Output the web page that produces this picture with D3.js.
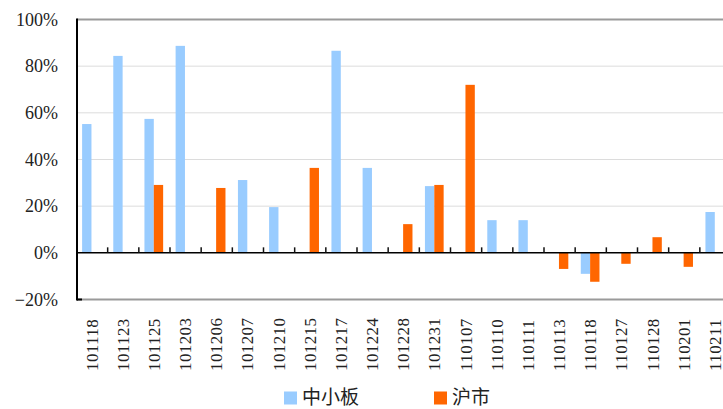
<!DOCTYPE html>
<html>
<head>
<meta charset="utf-8">
<script src="https://cdn.jsdelivr.net/npm/d3@7"></script>
<style>
  html, body { margin: 0; padding: 0; background: #fff; }
  svg { display: block; }
</style>
</head>
<body>
<svg id="chart" width="723" height="409"></svg>
<script>
// Categories (dates) and the two series, in percent
const categories = ["101118","101123","101125","101203","101206","101207","101210","101215","101217","101224",
                    "101228","101231","110107","110110","110111","110113","110118","110127","110128","110201","110211"];
const zxbValues = [55.2, 84.4, 57.4, 88.7, null, 31.2, 19.6, null, 86.6, 36.4,
                   null, 28.6, null, 14.0, 14.0, null, -9.0, null, null, null, 17.5];
const hsValues  = [null, null, 29.1, null, 27.8, null, null, 36.4, null, null,
                   12.3, 29.1, 72.0, null, null, -6.9, -12.4, -4.7, 6.7, -6.0, null];
const seriesNames = ["中小板", "沪市"];
const seriesColors = ["#99CCFF", "#FF6600"];
const yTicks = [-20, 0, 20, 40, 60, 80, 100];

const svg = d3.select("#chart");

const x = d3.scaleBand().domain(categories).range([76.5, 731]).paddingInner(0).paddingOuter(0);
const bw = x.bandwidth();
const inner = d3.scaleBand().domain([0, 1]).range([bw * 0.18, bw * 0.78]);
const y = d3.scaleLinear().domain([-20, 100]).range([299.5, 19.5]);

// Gridlines
svg.append("g").selectAll("line")
  .data(yTicks.filter(t => t > 0 && t < 100))
  .join("line")
  .attr("x1", 77).attr("x2", 731)
  .attr("y1", d => y(d)).attr("y2", d => y(d))
  .attr("stroke", "#dcdcdc").attr("stroke-width", 1);

// Top and bottom frame lines
svg.append("g").selectAll("line")
  .data([100, -20])
  .join("line")
  .attr("x1", 77).attr("x2", 731)
  .attr("y1", d => y(d)).attr("y2", d => y(d))
  .attr("stroke", "#9a9a9a").attr("stroke-width", 2);
svg.append("line")
  .attr("x1", 77).attr("x2", 82)
  .attr("y1", y(-20)).attr("y2", y(-20))
  .attr("stroke", "#000").attr("stroke-width", 2);

// Bars
const series = [zxbValues, hsValues];
series.forEach((vals, si) => {
  svg.append("g").selectAll("rect")
    .data(categories.map((c, i) => ({ c, v: vals[i] })).filter(d => d.v !== null))
    .join("rect")
    .attr("x", d => x(d.c) + inner(si))
    .attr("width", inner.bandwidth())
    .attr("y", d => y(Math.max(0, d.v)))
    .attr("height", d => Math.abs(y(d.v) - y(0)))
    .attr("fill", seriesColors[si]);
});

// Zero line with category separator ticks
svg.append("line")
  .attr("x1", 77).attr("x2", 731)
  .attr("y1", y(0)).attr("y2", y(0))
  .attr("stroke", "#000").attr("stroke-width", 1.5);
svg.append("g").selectAll("line")
  .data(categories.slice(1))
  .join("line")
  .attr("x1", d => x(d)).attr("x2", d => x(d))
  .attr("y1", y(0) - 5.5).attr("y2", y(0))
  .attr("stroke", "#111").attr("stroke-width", 1.5);

// Left axis line
svg.append("line")
  .attr("x1", 77).attr("x2", 77)
  .attr("y1", y(100) - 1).attr("y2", y(-20) + 1)
  .attr("stroke", "#000").attr("stroke-width", 2);

// Y labels
svg.append("g").selectAll("text")
  .data(yTicks)
  .join("text")
  .attr("x", 58)
  .attr("y", d => y(d))
  .attr("dy", "0.35em")
  .attr("text-anchor", "end")
  .attr("font-family", "'Liberation Serif', serif")
  .attr("font-size", 18)
  .attr("fill", "#222")
  .text(d => (d < 0 ? "\u2212" + Math.abs(d) : d) + "%");

// X labels, rotated
svg.append("g").selectAll("text")
  .data(categories)
  .join("text")
  .attr("transform", d => `translate(${x(d) + bw / 2},371) rotate(-90)`)
  .attr("text-anchor", "start")
  .attr("dominant-baseline", "central")
  .attr("font-family", "'Liberation Serif', serif")
  .attr("font-size", 17)
  .attr("letter-spacing", 0.4)
  .attr("fill", "#222")
  .text(d => d);

// Legend
const legendX = [284, 434];
const legend = svg.append("g");
seriesNames.forEach((name, i) => {
  legend.append("rect")
    .attr("x", legendX[i]).attr("y", 391.5)
    .attr("width", 13).attr("height", 13)
    .attr("fill", seriesColors[i]);
  legend.append("text")
    .attr("x", legendX[i] + 18).attr("y", 397.5)
    .attr("dy", "0.36em")
    .attr("font-family", "'Noto Sans CJK SC', sans-serif")
    .attr("font-size", 19)
    .attr("fill", "#222")
    .text(name);
});
</script>
</body>
</html>
